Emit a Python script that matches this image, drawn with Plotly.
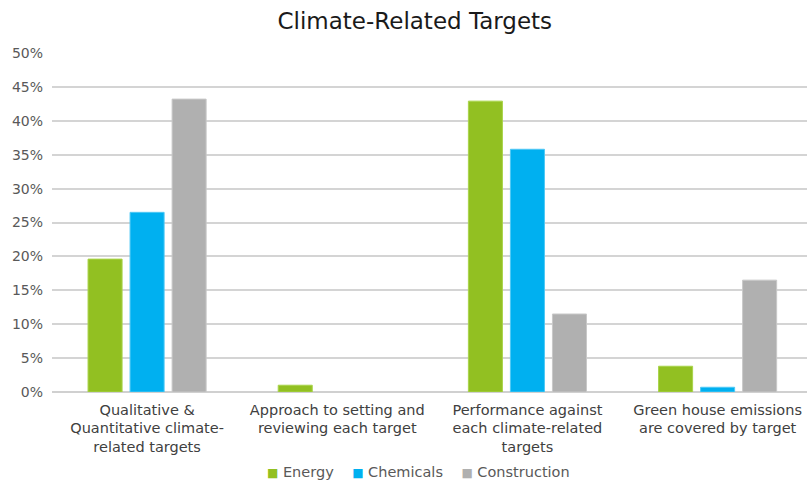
import plotly.graph_objects as go

# Survey categories and share of companies per sector
categories = [
    "Qualitative &<br>Quantitative climate-<br>related targets",
    "Approach to setting and<br>reviewing each target",
    "Performance against<br>each climate-related<br>targets",
    "Green house emissions<br>are covered by target",
]
energy = [0.196, 0.010, 0.429, 0.038]
chemicals = [0.265, 0.0, 0.358, 0.007]
construction = [0.432, 0.0, 0.115, 0.165]

series = [
    ("Energy", energy, "#92C022", "#A9D44A"),
    ("Chemicals", chemicals, "#00B0F0", "#4FC8F5"),
    ("Construction", construction, "#B0B0B0", "#C8C8C8"),
]

FONT = "'DejaVu Sans', sans-serif"

fig = go.Figure()
xpos = list(range(len(categories)))
for name, vals, color, edge in series:
    # no outline on empty bars so nothing shows at the baseline
    widths = [1 if v > 0 else 0 for v in vals]
    fig.add_trace(go.Bar(
        name=name, x=xpos, y=vals,
        marker=dict(color=color, line=dict(color=edge, width=widths)),
        showlegend=False,
    ))

# Compact legend row: coloured square followed by series name
legend_text = "&nbsp;&nbsp;&nbsp;&nbsp;".join(
    f"<span style='color:{color};font-size:12px'>■</span>&nbsp;{name}"
    for name, _, color, _ in series
)
fig.add_annotation(
    text=legend_text, xref="paper", yref="paper", x=0.486, y=-0.236,
    xanchor="center", yanchor="middle", showarrow=False,
    font=dict(family=FONT, size=14.5, color="#595959"),
)

fig.update_layout(
    width=807, height=481,
    margin=dict(l=52, r=0, t=53, b=89, autoexpand=False),
    paper_bgcolor="white", plot_bgcolor="white",
    barmode="group", bargap=0.337, bargroupgap=0.19,
    font=dict(family=FONT, size=14.5, color="#595959"),
    title=dict(text="Climate-Related Targets", x=0.514, xanchor="center",
               y=0.957, yanchor="middle",
               font=dict(family=FONT, size=23, color="#1a1a1a")),
    xaxis=dict(range=[-0.5, 3.47], tickmode="array", tickvals=xpos,
               ticktext=categories, showgrid=False, zeroline=False,
               showline=False, ticks="", automargin=False,
               ticklabelstandoff=7,
               tickfont=dict(size=14.5, color="#404040")),
    yaxis=dict(range=[0, 0.5], dtick=0.05, tickformat=".0%",
               showgrid=True, gridcolor="#d4d4d4", gridwidth=1.5,
               zeroline=True, zerolinecolor="#d0d0d0", zerolinewidth=2,
               ticks="", ticklabelstandoff=8, automargin=False,
               tickfont=dict(size=14, color="#595959")),
)

fig.write_html("out.html")
